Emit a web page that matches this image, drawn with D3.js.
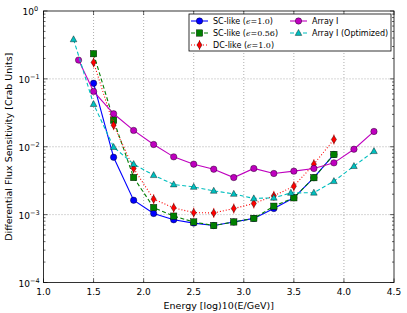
<!DOCTYPE html>
<html>
<head>
<meta charset="utf-8">
<script src="https://cdn.jsdelivr.net/npm/d3@7"></script>
<style>
  body { margin: 0; background: #fff; }
  svg { font-family: "DejaVu Sans", sans-serif; }
</style>
</head>
<body>
<svg id="chart"></svg>
<script>
//**** DATA ****//
const energy = [1.5, 1.7, 1.9, 2.1, 2.3, 2.5, 2.7, 2.9, 3.1, 3.3, 3.5, 3.7, 3.9];
const energyArray = [1.35, 1.5, 1.7, 1.9, 2.1, 2.3, 2.5, 2.7, 2.9, 3.1, 3.3, 3.5, 3.7, 3.9, 4.1, 4.3];
const energyOpt = [1.3, 1.5, 1.7, 1.9, 2.1, 2.3, 2.5, 2.7, 2.9, 3.1, 3.3, 3.47, 3.7, 3.9, 4.1, 4.3];

const scLike10 = [0.086, 0.0070, 0.00163, 0.00104, 0.00084, 0.00075, 0.00069, 0.00078, 0.00088, 0.00123, 0.00177, 0.0035, 0.0077];
const scLike056 = [0.235, 0.0247, 0.00352, 0.00127, 0.00095, 0.00078, 0.00069, 0.00078, 0.00088, 0.00133, 0.00177, 0.0035, 0.0077];
const dcLike10 = [0.175, 0.0208, 0.00479, 0.00169, 0.00126, 0.00107, 0.00106, 0.00123, 0.00146, 0.00189, 0.00262, 0.00554, 0.0128];
const arrayI = [0.189, 0.0654, 0.0306, 0.0174, 0.0108, 0.0071, 0.00554, 0.00467, 0.00352, 0.00479, 0.00404, 0.00437, 0.00479, 0.00579, 0.0092, 0.0168];
const arrayIOpt = [0.382, 0.0425, 0.0099, 0.00554, 0.00381, 0.00278, 0.00256, 0.00224, 0.00202, 0.00173, 0.00177, 0.00209, 0.0021, 0.00311, 0.00518, 0.0086];

const xTicks = [1.0, 1.5, 2.0, 2.5, 3.0, 3.5, 4.0, 4.5];
const yTicks = [1e-4, 1e-3, 1e-2, 1e-1, 1];

const width = 407, height = 313;
const mLeft = 43.5, mRight = 394, mTop = 11, mBottom = 282.5;

const svg = d3.select('#chart').attr('width', width).attr('height', height);

const x = d3.scaleLinear().domain([1, 4.5]).range([mLeft, mRight]);
const y = d3.scaleLog().domain([1e-4, 1]).range([mBottom, mTop]);

// grid lines
svg.append('g').selectAll('line').data(xTicks.slice(1, -1)).enter().append('line')
  .attr('x1', d => x(d)).attr('x2', d => x(d)).attr('y1', mTop).attr('y2', mBottom)
  .attr('stroke', '#999').attr('stroke-width', 0.8).attr('stroke-dasharray', '1,2');
svg.append('g').selectAll('line').data(yTicks.slice(1, -1)).enter().append('line')
  .attr('x1', mLeft).attr('x2', mRight).attr('y1', d => y(d)).attr('y2', d => y(d))
  .attr('stroke', '#999').attr('stroke-width', 0.8).attr('stroke-dasharray', '1,2');

// ticks (pointing inwards, on all sides)
const minor = [];
for (let e = -4; e < 0; e++) for (let m = 2; m < 10; m++) minor.push(m * Math.pow(10, e));
const tickG = svg.append('g').attr('stroke', '#000').attr('stroke-width', 0.6);
xTicks.forEach(t => {
  tickG.append('line').attr('x1', x(t)).attr('x2', x(t)).attr('y1', mBottom).attr('y2', mBottom - 4);
  tickG.append('line').attr('x1', x(t)).attr('x2', x(t)).attr('y1', mTop).attr('y2', mTop + 4);
});
yTicks.forEach(t => {
  tickG.append('line').attr('x1', mLeft).attr('x2', mLeft + 4).attr('y1', y(t)).attr('y2', y(t));
  tickG.append('line').attr('x1', mRight).attr('x2', mRight - 4).attr('y1', y(t)).attr('y2', y(t));
});
minor.forEach(t => {
  tickG.append('line').attr('x1', mLeft).attr('x2', mLeft + 2).attr('y1', y(t)).attr('y2', y(t));
  tickG.append('line').attr('x1', mRight).attr('x2', mRight - 2).attr('y1', y(t)).attr('y2', y(t));
});

// tick labels
svg.append('g').selectAll('text').data(xTicks).enter().append('text')
  .attr('x', d => x(d)).attr('y', mBottom + 12)
  .attr('text-anchor', 'middle').attr('font-size', 9)
  .text(d => d.toFixed(1));

const yLab = svg.append('g').selectAll('text').data(yTicks).enter().append('text')
  .attr('x', d => Math.round(Math.log10(d)) === 0 ? mLeft - 21 : mLeft - 25)
  .attr('y', d => y(d) + 4)
  .attr('font-size', 9);
yLab.append('tspan').text('10');
yLab.append('tspan').attr('font-size', 6.5).attr('dy', -4)
  .text(d => Math.round(Math.log10(d)) === 0 ? '0' : '\u2212' + Math.abs(Math.round(Math.log10(d))));

// axis titles
const xt = svg.append('text').attr('x', (mLeft + mRight) / 2).attr('y', mBottom + 26)
  .attr('text-anchor', 'middle').attr('font-size', 9.5);
xt.append('tspan').text('Energy [log)');
xt.append('tspan').attr('font-family', 'DejaVu Serif').text('10');
xt.append('tspan').text('(E/GeV)]');

svg.append('text')
  .attr('transform', 'translate(12,' + ((mTop + mBottom) / 2) + ') rotate(-90)')
  .attr('text-anchor', 'middle').attr('font-size', 9.5)
  .text('Differential Flux Sensitivity [Crab Units]');

// series
const series = [
  {label: 'SC-like', eps: '1.0', xs: energy, ys: scLike10, color: '#0000ff', dash: null, marker: 'circle'},
  {label: 'SC-like', eps: '0.56', xs: energy, ys: scLike056, color: '#007f00', dash: '4,2.5', marker: 'square'},
  {label: 'DC-like', eps: '1.0', xs: energy, ys: dcLike10, color: '#ff0000', dash: '1,2', marker: 'thin_diamond'},
  {label: 'Array I', xs: energyArray, ys: arrayI, color: '#bf00bf', dash: null, marker: 'circle'},
  {label: 'Array I (Optimized)', xs: energyOpt, ys: arrayIOpt, color: '#00bfbf', dash: '4,2.5', marker: 'triangle'}
];

const line = d3.line().x(d => x(d[0])).y(d => y(d[1]));

function drawMarker(g, type, cx, cy, color) {
  if (type === 'circle') {
    g.append('circle').attr('cx', cx).attr('cy', cy).attr('r', 3.2)
      .attr('fill', color).attr('stroke', '#000').attr('stroke-width', 0.4);
  } else if (type === 'square') {
    g.append('rect').attr('x', cx - 3.2).attr('y', cy - 3.2).attr('width', 6.4).attr('height', 6.4)
      .attr('fill', color).attr('stroke', '#000').attr('stroke-width', 0.4);
  } else if (type === 'thin_diamond') {
    g.append('line').attr('x1', cx).attr('x2', cx).attr('y1', cy - 5).attr('y2', cy + 5)
      .attr('stroke', color).attr('stroke-width', 0.8);
    g.append('path').attr('d', `M${cx},${cy - 4}L${cx + 2.6},${cy}L${cx},${cy + 4}L${cx - 2.6},${cy}Z`)
      .attr('fill', color).attr('stroke', '#000').attr('stroke-width', 0.4);
  } else if (type === 'triangle') {
    g.append('path').attr('d', `M${cx},${cy - 3.6}L${cx + 3.3},${cy + 2.4}L${cx - 3.3},${cy + 2.4}Z`)
      .attr('fill', color).attr('stroke', '#000').attr('stroke-width', 0.4);
  }
}

const plot = svg.append('g');
series.forEach(s => {
  const pts = s.xs.map((e, i) => [e, s.ys[i]]);
  plot.append('path').attr('d', line(pts)).attr('fill', 'none')
    .attr('stroke', s.color).attr('stroke-width', 1.1)
    .attr('stroke-dasharray', s.dash);
  const g = plot.append('g');
  pts.forEach(p => drawMarker(g, s.marker, x(p[0]), y(p[1]), s.color));
});

// frame
svg.append('rect').attr('x', mLeft).attr('y', mTop).attr('width', mRight - mLeft).attr('height', mBottom - mTop)
  .attr('fill', 'none').attr('stroke', '#000').attr('stroke-width', 0.8);

// legend
const leg = svg.append('g');
leg.append('rect').attr('x', 189).attr('y', 14).attr('width', 202).attr('height', 37)
  .attr('fill', '#fff').attr('stroke', '#000').attr('stroke-width', 0.8);
const legPos = [[191, 21], [191, 33], [191, 45], [290, 21], [290, 33]];
series.forEach((s, i) => {
  const [lx, ly] = legPos[i];
  leg.append('line').attr('x1', lx).attr('x2', lx + 17).attr('y1', ly).attr('y2', ly)
    .attr('stroke', s.color).attr('stroke-width', 1.1).attr('stroke-dasharray', s.dash);
  drawMarker(leg, s.marker, lx + 8.5, ly, s.color);
  const t = leg.append('text').attr('x', lx + 22).attr('y', ly + 3).attr('font-size', 8);
  t.append('tspan').text(s.label);
  if (s.eps) {
    t.append('tspan').text(' (');
    t.append('tspan').attr('font-family', 'DejaVu Serif').attr('font-style', 'italic').text('\u03f5');
    t.append('tspan').attr('font-family', 'DejaVu Serif').text('=' + s.eps);
    t.append('tspan').text(')');
  }
});
</script>
</body>
</html>
